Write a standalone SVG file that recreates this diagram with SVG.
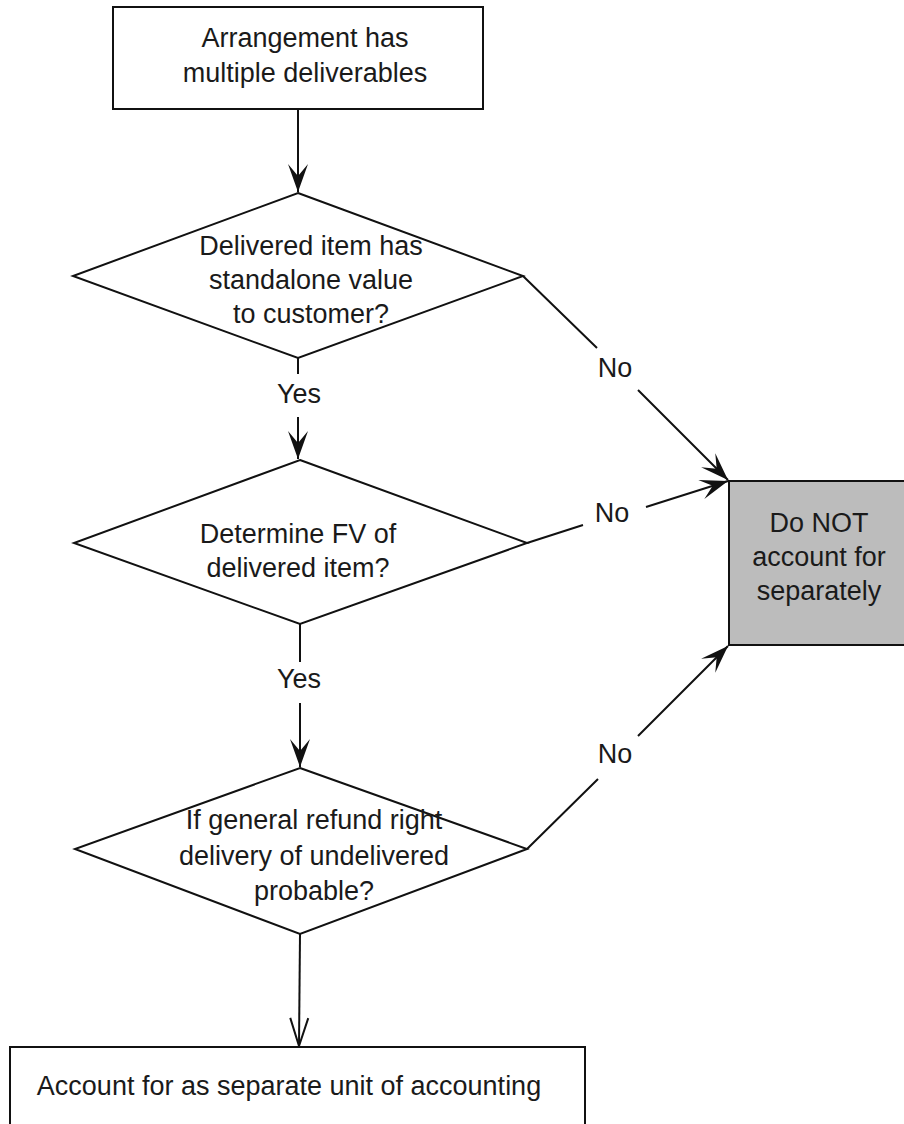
<svg xmlns="http://www.w3.org/2000/svg" width="904" height="1124" viewBox="0 0 904 1124">
<style>
.shape{fill:#ffffff;stroke:#111111;stroke-width:2}
.gray{fill:#bcbcbc;stroke:#111111;stroke-width:2}
.t{font-family:"Liberation Sans",Arial,Helvetica,sans-serif;font-size:27px;fill:#1a1a1a;text-anchor:middle}
.c{fill:none;stroke:#111111;stroke-width:2}
</style>
<defs>
<marker id="arr" markerUnits="userSpaceOnUse" markerWidth="32" markerHeight="24" viewBox="-30 -12 32 24" refX="0" refY="0" orient="auto">
<path d="M0,0 L-28,-10 L-16,0 L-28,10 Z" fill="#111111"/>
</marker>
<marker id="open" markerUnits="userSpaceOnUse" markerWidth="32" markerHeight="24" viewBox="-30 -12 32 24" refX="0" refY="0" orient="auto">
<path d="M-28,-9 L0,0 L-28,9" fill="none" stroke="#111111" stroke-width="2"/>
</marker>
</defs>
<g id="connectors">
<path class="c" d="M298,109 L298,192" marker-end="url(#arr)"/>
<path class="c" d="M298,358 L298,374 M298,417 L298,459" marker-end="url(#arr)"/>
<path class="c" d="M300,624 L300,662 M300,703 L300,767" marker-end="url(#arr)"/>
<path class="c" d="M300,934 L299,1046" marker-end="url(#open)"/>
<path class="c" d="M523,276 L597,348 M638,390 L728,480" marker-end="url(#arr)"/>
<path class="c" d="M527,543 L583,525 M646,507 L728,481" marker-end="url(#arr)"/>
<path class="c" d="M527,849 L598,779 M638,736 L728,646" marker-end="url(#arr)"/>
<text class="t" x="299" y="403">Yes</text>
<text class="t" x="299" y="688">Yes</text>
<text class="t" x="615" y="377">No</text>
<text class="t" x="612" y="522">No</text>
<text class="t" x="615" y="763">No</text>
</g>
<g id="start">
<rect class="shape" x="113" y="7" width="370" height="102"/>
<text class="t" x="305" y="47">Arrangement has</text>
<text class="t" x="305" y="82">multiple deliverables</text>
</g>
<g id="d1">
<polygon class="shape" points="298,193 523,276 298,358 73,276"/>
<text class="t" x="311" y="255">Delivered item has</text>
<text class="t" x="311" y="289">standalone value</text>
<text class="t" x="311" y="323">to customer?</text>
</g>
<g id="d2">
<polygon class="shape" points="300,460 527,543 300,624 74,543"/>
<text class="t" x="298" y="543">Determine FV of</text>
<text class="t" x="298" y="577">delivered item?</text>
</g>
<g id="d3">
<polygon class="shape" points="300,768 527,849 300,934 75,849"/>
<text class="t" x="314" y="829">If general refund right</text>
<text class="t" x="314" y="865">delivery of undelivered</text>
<text class="t" x="314" y="900">probable?</text>
</g>
<g id="nosep">
<rect class="gray" x="729" y="481" width="190" height="164"/>
<text class="t" x="819" y="532">Do NOT</text>
<text class="t" x="819" y="566">account for</text>
<text class="t" x="819" y="600">separately</text>
</g>
<g id="separate">
<rect class="shape" x="10" y="1047" width="575" height="100"/>
<text class="t" x="289" y="1095">Account for as separate unit of accounting</text>
</g>
</svg>
